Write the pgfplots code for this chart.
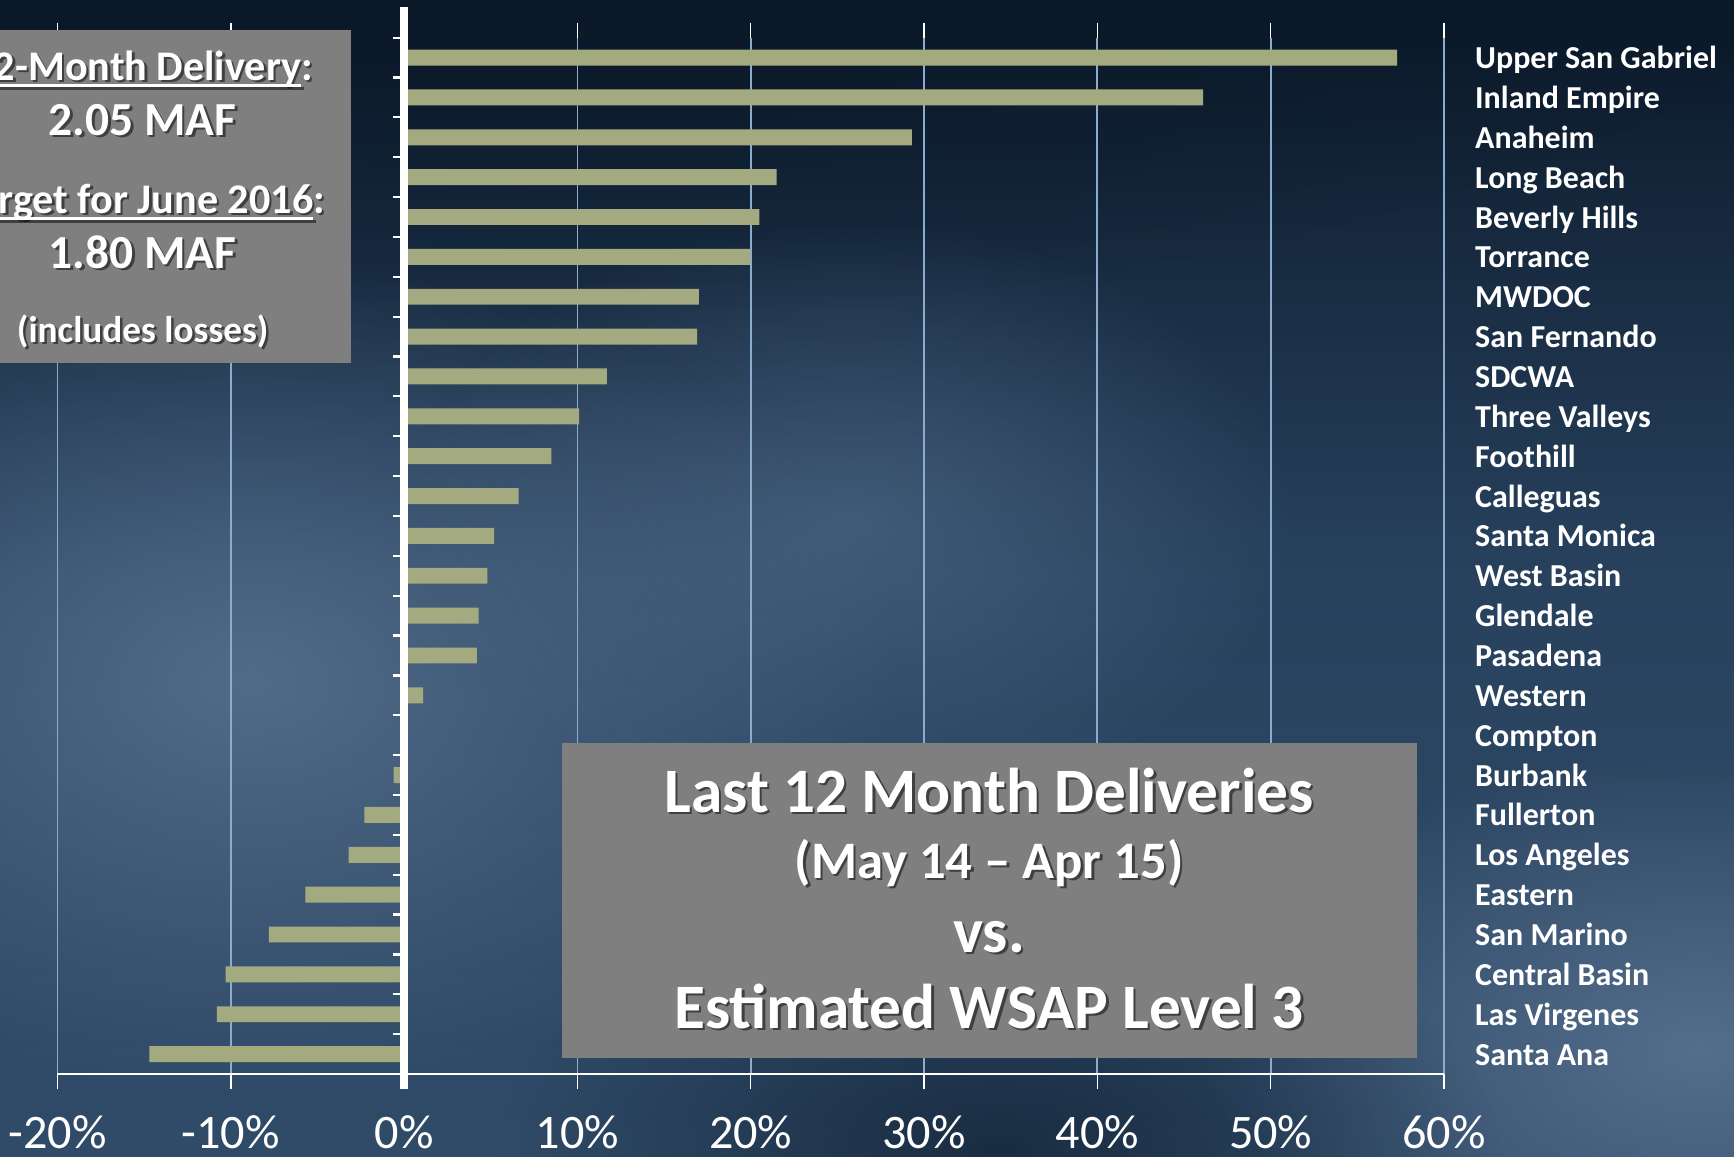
\documentclass[border=0pt]{standalone}
\usepackage{pgfplots}
\pgfplotsset{compat=1.18}
\usetikzlibrary{fadings}
\usepackage{fontspec}
\setmainfont{Carlito}

\definecolor{bartan}{RGB}{164,170,127}
\definecolor{gridblue}{RGB}{140,172,206}
\definecolor{boxgray}{RGB}{127,127,127}
\definecolor{bgtop}{RGB}{10,24,40}
\definecolor{bgmid}{RGB}{40,66,94}
\definecolor{bgbot}{RGB}{48,75,104}
\definecolor{bglight}{RGB}{88,114,145}

\tikzfading[name=fade out, inner color=transparent!0, outer color=transparent!100]

% underline that cuts through descenders, like the slide
\newsavebox\ulbox
\newcommand{\ul}[1]{\sbox\ulbox{#1}\rlap{\rule[-0.17em]{\wd\ulbox}{0.07em}}\usebox\ulbox}
% white text with a soft drop shadow (x, y in px, font, text)
\newcommand{\shtext}[4]{%
  \node[anchor=base, font=#3, text=black, opacity=0.5] at ([xshift=0.25mm,yshift=-0.25mm]#1,#2) {#4};
  \node[anchor=base, font=#3, text=white] at (#1,#2) {#4};}

\begin{document}
\begin{tikzpicture}
\useasboundingbox (0,0) rectangle (173.4mm,-115.6mm);
\clip (0,0) rectangle (173.4mm,-115.6mm);

% background, in px (1 px = 0.1 mm, y down)
\begin{scope}[x=0.1mm, y=-0.1mm]
  \shade[top color=bgtop, bottom color=bgbot, middle color=bgmid] (0,0) rectangle (1734,1156);
  \fill[bgtop, path fading=fade out] (600,-250) ellipse (1400 and 560);
  \fill[bglight, opacity=0.85, path fading=fade out] (250,680) ellipse (650 and 420);
  \fill[bglight, opacity=0.55, path fading=fade out] (850,520) ellipse (450 and 300);
  \fill[bglight, opacity=0.9, path fading=fade out] (1700,1050) ellipse (500 and 300);
  \fill[bgtop, opacity=0.6, path fading=fade out] (1000,1150) ellipse (500 and 250);
\end{scope}

\begin{axis}[
    at={(5.75mm,-107.4mm)}, anchor=south west,
    scale only axis, width=138.65mm, height=103.64mm,
    xbar, bar width=0.4,
    xmin=-20, xmax=60, ymin=-0.5, ymax=25.5,
    y dir=reverse,
    clip=false,
    axis line style={draw=none},
    xtick={-20,-10,0,10,20,30,40,50,60},
    xticklabels={-20\%,-10\%,0\%,10\%,20\%,30\%,40\%,50\%,60\%},
    xtick align=outside,
    major tick length=1.5mm,
    x tick style={white, line width=0.15mm},
    xticklabel style={text=white, font=\fontsize{13.7}{15}\selectfont, inner sep=0pt, yshift=-2.6mm},
    xmajorgrids,
    major grid style={gridblue, line width=0.18mm},
    ytick={0,...,25},
    yticklabels={Upper San Gabriel, Inland Empire, Anaheim, Long Beach, Beverly Hills,
      Torrance, MWDOC, San Fernando, SDCWA, Three Valleys, Foothill, Calleguas,
      Santa Monica, West Basin, Glendale, Pasadena, Western, Compton, Burbank,
      Fullerton, Los Angeles, Eastern, San Marino, Central Basin, Las Virgenes, Santa Ana},
    yticklabel pos=right,
    y tick style={draw=none},
    yticklabel style={anchor=base west, inner sep=0pt, xshift=1.55mm, yshift=-1.1mm, text=white,
      font=\fontsize{9.1}{10}\selectfont\bfseries},
]
\addplot[fill=bartan, draw=none] coordinates {
  (57.3,0) (46.1,1) (29.3,2) (21.5,3) (20.5,4) (20.0,5) (17.0,6) (16.9,7)
  (11.7,8) (10.1,9) (8.5,10) (6.6,11) (5.2,12) (4.8,13) (4.3,14) (4.2,15)
  (1.1,16) (0,17) (-0.6,18) (-2.3,19) (-3.2,20) (-5.7,21) (-7.8,22)
  (-10.3,23) (-10.8,24) (-14.7,25)
};
% bottom axis line and the thick zero line with its category ticks
\draw[white, line width=0.2mm] (axis cs:-20,25.5) -- (axis cs:60,25.5);
\pgfplotsinvokeforeach{0,...,25}{
  \draw[white, line width=0.22mm] (axis cs:0,#1-0.5) -- ([xshift=-1.15mm]axis cs:0,#1-0.5);
}
\draw[white, line width=0.8mm] (axis cs:0,-1.27) -- (axis cs:0,25.88);
\end{axis}

% text boxes
\begin{scope}[x=0.1mm, y=-0.1mm]
  \fill[boxgray] (0,30) rectangle (351,362.7);
  \shtext{142.7}{80}{\fontsize{12}{13}\selectfont\bfseries}{\ul{12-Month Delivery}:}
  \shtext{142.7}{135}{\fontsize{13.5}{15}\selectfont\bfseries}{2.05 MAF}
  \shtext{142.7}{213}{\fontsize{12}{13}\selectfont\bfseries}{\ul{Target for June 2016}:}
  \shtext{142.7}{268}{\fontsize{13.5}{15}\selectfont\bfseries}{1.80 MAF}
  \shtext{142.7}{342}{\fontsize{10.6}{12}\selectfont\bfseries}{(includes losses)}

  \fill[boxgray] (561.8,743.3) rectangle (1416.6,1058.3);
  \shtext{989}{812}{\fontsize{18}{20}\selectfont\bfseries}{Last 12 Month Deliveries}
  \shtext{989}{878}{\fontsize{15}{17}\selectfont\bfseries}{(May 14 – Apr 15)}
  \shtext{989}{952}{\fontsize{18}{20}\selectfont\bfseries}{vs.}
  \shtext{989}{1028}{\fontsize{18}{20}\selectfont\bfseries}{Estimated WSAP Level 3}
\end{scope}
\end{tikzpicture}
\end{document}
